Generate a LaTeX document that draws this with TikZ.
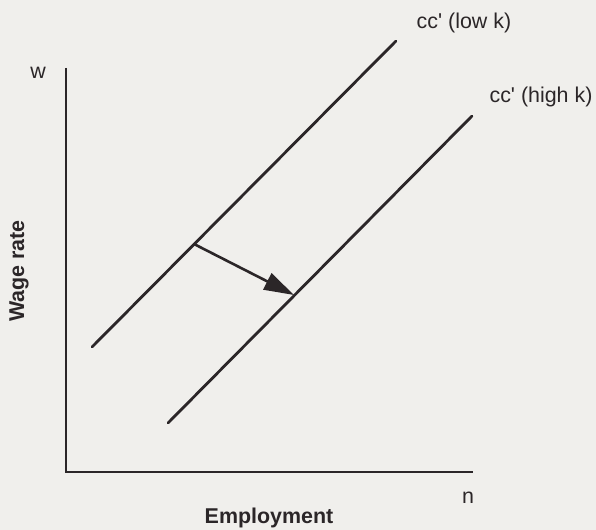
\documentclass[tikz,border=0pt]{standalone}
\usepackage{fontspec}
\setmainfont{Liberation Sans}
\newfontfamily\plainsans{Liberation Sans}
\usetikzlibrary{arrows.meta}
\definecolor{ink}{HTML}{2B2628}
\definecolor{paper}{HTML}{F0EFEC}
\begin{document}
\begin{tikzpicture}[x=1bp,y=-1bp,
  curve/.style={draw=ink,line width=2.8bp,line cap=round},
  axis/.style={draw=ink,line width=2.8bp},
  lbl/.style={text=ink,inner sep=0pt,font=\plainsans\fontsize{21.5}{24}\selectfont},
  blbl/.style={text=ink,inner sep=0pt,font=\plainsans\fontsize{21.5}{24}\selectfont\bfseries}]
\fill[paper] (0,0) rectangle (596,530);
\useasboundingbox (0,0) rectangle (596,530);
% axes
\coordinate (top) at (66,68);
\coordinate (O) at (66,472);
\coordinate (right) at (473,472);
\draw[axis] (top) -- (O) -- (right);
% curves
\coordinate (L1a) at (92,347);
\coordinate (L1b) at (396,41);
\coordinate (L2a) at (168,423);
\coordinate (L2b) at (472,116);
\draw[curve] (L1a) -- (L1b);
\draw[curve] (L2a) -- (L2b);
% shift arrow
\coordinate (A) at (194,244);
\coordinate (B) at (294,295);
\draw[draw=ink,line width=2.6bp,-{Triangle[length=30bp,width=18bp]}] (A) -- (B);
% labels
\node[lbl] (w) at (38,73) {w};
\node[lbl] (n) at (468,498) {n};
\node[lbl] (low) at (464,23) {cc' (low k)};
\node[lbl] (high) at (541,97) {cc' (high k)};
\node[blbl] (emp) at (269,518) {Employment};
\node[blbl,rotate=90] (wage) at (19,271) {Wage rate};
\end{tikzpicture}
\end{document}
